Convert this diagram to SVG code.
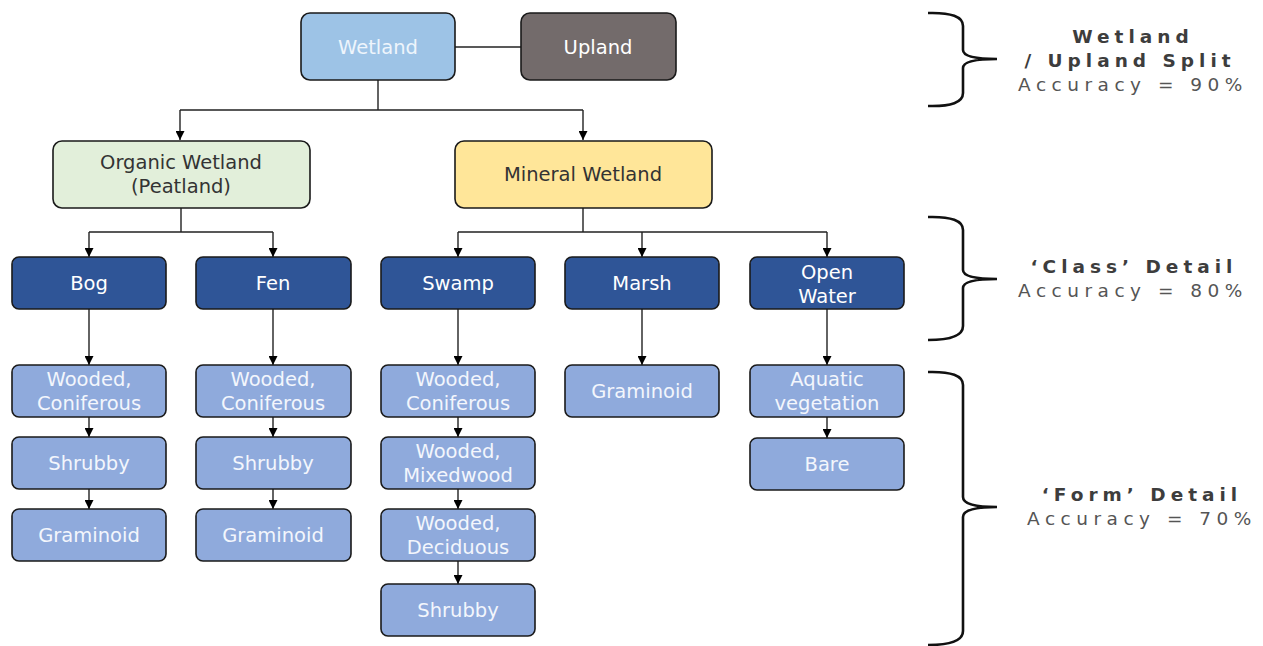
<svg xmlns="http://www.w3.org/2000/svg" width="1263" height="646" viewBox="0 0 1263 646">
<defs>
<marker id="ah" viewBox="0 0 10 10" refX="10" refY="5" markerWidth="9" markerHeight="9" markerUnits="userSpaceOnUse" orient="auto">
<path d="M0,0 L10,5 L0,10 z" fill="#000"/>
</marker>
<style>
.box{stroke:#1a1a1a;stroke-width:1.6}
.t{font-family:"DejaVu Sans","Open Sans",sans-serif;font-size:19.5px;text-anchor:middle}
.w{fill:#ffffff}
.lw{fill:#f3f6fc}
.d{fill:#333333}
.c{fill:none;stroke:#222;stroke-width:1.4}
.a{fill:none;stroke:#222;stroke-width:1.4;marker-end:url(#ah)}
.br{fill:none;stroke:#111;stroke-width:2.6}
.h{font-family:"DejaVu Sans","Open Sans",sans-serif;font-size:18.5px;font-weight:bold;fill:#3d3d3d;text-anchor:middle;letter-spacing:5px}
.acc{font-family:"DejaVu Sans","Open Sans",sans-serif;font-size:18.5px;fill:#555;text-anchor:middle;letter-spacing:5.5px}
.dark{fill:#2f5597}
.lite{fill:#8faadc}
</style>
</defs>
<rect width="1263" height="646" fill="#ffffff"/>

<g id="connectors">
<line class="c" x1="455" y1="47" x2="521" y2="47"/>
<path class="c" d="M378,80 V110 M180,110 H583"/>
<path class="a" d="M180,110 V140"/>
<path class="a" d="M583,110 V140"/>
<path class="c" d="M181,208 V232 M89,232 H273"/>
<path class="a" d="M89,232 V257"/>
<path class="a" d="M273,232 V257"/>
<path class="c" d="M583,208 V232 M458,232 H827"/>
<path class="a" d="M458,232 V257"/>
<path class="a" d="M642,232 V257"/>
<path class="a" d="M827,232 V257"/>
<path class="a" d="M89,309 V365"/>
<path class="a" d="M273,309 V365"/>
<path class="a" d="M458,309 V365"/>
<path class="a" d="M642,309 V365"/>
<path class="a" d="M827,309 V365"/>
<path class="a" d="M89,417 V437"/>
<path class="a" d="M89,489 V509"/>
<path class="a" d="M273,417 V437"/>
<path class="a" d="M273,489 V509"/>
<path class="a" d="M458,417 V437"/>
<path class="a" d="M458,489 V509"/>
<path class="a" d="M458,561 V584"/>
<path class="a" d="M827,417 V438"/>
</g>

<g id="wetland"><rect class="box" x="301" y="13" width="154" height="67" rx="9" fill="#9dc3e6"/><text class="t" x="378" y="54" fill="#eef5fc">Wetland</text></g>
<g id="upland"><rect class="box" x="521" y="13" width="155" height="67" rx="9" fill="#736b6b"/><text class="t w" x="598" y="54">Upland</text></g>
<g id="organic"><rect class="box" x="53" y="141" width="257" height="67" rx="9" fill="#e2efda"/><text class="t d" x="181" y="169">Organic Wetland</text><text class="t d" x="181" y="193">(Peatland)</text></g>
<g id="mineral"><rect class="box" x="455" y="141" width="257" height="67" rx="9" fill="#ffe699"/><text class="t d" x="583" y="181">Mineral Wetland</text></g>

<g id="bog"><rect class="box dark" x="12" y="257" width="154" height="52" rx="7"/><text class="t w" x="89" y="290">Bog</text></g>
<g id="fen"><rect class="box dark" x="196" y="257" width="155" height="52" rx="7"/><text class="t w" x="273" y="290">Fen</text></g>
<g id="swamp"><rect class="box dark" x="381" y="257" width="154" height="52" rx="7"/><text class="t w" x="458" y="290">Swamp</text></g>
<g id="marsh"><rect class="box dark" x="565" y="257" width="154" height="52" rx="7"/><text class="t w" x="642" y="290">Marsh</text></g>
<g id="openwater"><rect class="box dark" x="750" y="257" width="154" height="52" rx="7"/><text class="t w" x="827" y="279">Open</text><text class="t w" x="827" y="303">Water</text></g>

<g id="bog-wc"><rect class="box lite" x="12" y="365" width="154" height="52" rx="7"/><text class="t lw" x="89" y="386">Wooded,</text><text class="t lw" x="89" y="410">Coniferous</text></g>
<g id="bog-sh"><rect class="box lite" x="12" y="437" width="154" height="52" rx="7"/><text class="t lw" x="89" y="470">Shrubby</text></g>
<g id="bog-gr"><rect class="box lite" x="12" y="509" width="154" height="52" rx="7"/><text class="t lw" x="89" y="542">Graminoid</text></g>

<g id="fen-wc"><rect class="box lite" x="196" y="365" width="155" height="52" rx="7"/><text class="t lw" x="273" y="386">Wooded,</text><text class="t lw" x="273" y="410">Coniferous</text></g>
<g id="fen-sh"><rect class="box lite" x="196" y="437" width="155" height="52" rx="7"/><text class="t lw" x="273" y="470">Shrubby</text></g>
<g id="fen-gr"><rect class="box lite" x="196" y="509" width="155" height="52" rx="7"/><text class="t lw" x="273" y="542">Graminoid</text></g>

<g id="sw-wc"><rect class="box lite" x="381" y="365" width="154" height="52" rx="7"/><text class="t lw" x="458" y="386">Wooded,</text><text class="t lw" x="458" y="410">Coniferous</text></g>
<g id="sw-wm"><rect class="box lite" x="381" y="437" width="154" height="52" rx="7"/><text class="t lw" x="458" y="458">Wooded,</text><text class="t lw" x="458" y="482">Mixedwood</text></g>
<g id="sw-wd"><rect class="box lite" x="381" y="509" width="154" height="52" rx="7"/><text class="t lw" x="458" y="530">Wooded,</text><text class="t lw" x="458" y="554">Deciduous</text></g>
<g id="sw-sh"><rect class="box lite" x="381" y="584" width="154" height="52" rx="7"/><text class="t lw" x="458" y="617">Shrubby</text></g>

<g id="ma-gr"><rect class="box lite" x="565" y="365" width="154" height="52" rx="7"/><text class="t lw" x="642" y="398">Graminoid</text></g>

<g id="ow-aq"><rect class="box lite" x="750" y="365" width="154" height="52" rx="7"/><text class="t lw" x="827" y="386">Aquatic</text><text class="t lw" x="827" y="410">vegetation</text></g>
<g id="ow-ba"><rect class="box lite" x="750" y="438" width="154" height="52" rx="7"/><text class="t lw" x="827" y="471">Bare</text></g>

<g id="brace1">
<path class="br" d="M928,13 Q963,12 963,26 L963,50 Q963,59 997,59 Q963,59 963,68 L963,93 Q963,107 928,106"/>
<text class="h" x="1133" y="43">Wetland</text>
<text class="h" x="1130" y="67">/ Upland Split</text>
<text class="acc" x="1133" y="91">Accuracy = 90%</text>
</g>
<g id="brace2">
<path class="br" d="M928,217 Q963,216 963,230 L963,270 Q963,279 997,279 Q963,279 963,288 L963,326 Q963,340 928,340"/>
<text class="h" x="1134" y="273">‘Class’ Detail</text>
<text class="acc" x="1133" y="297">Accuracy = 80%</text>
</g>
<g id="brace3">
<path class="br" d="M928,372 Q963,371 963,385 L963,497 Q963,507 997,507 Q963,507 963,517 L963,631 Q963,645 928,645"/>
<text class="h" x="1142" y="501">‘Form’ Detail</text>
<text class="acc" x="1142" y="525">Accuracy = 70%</text>
</g>
</svg>
